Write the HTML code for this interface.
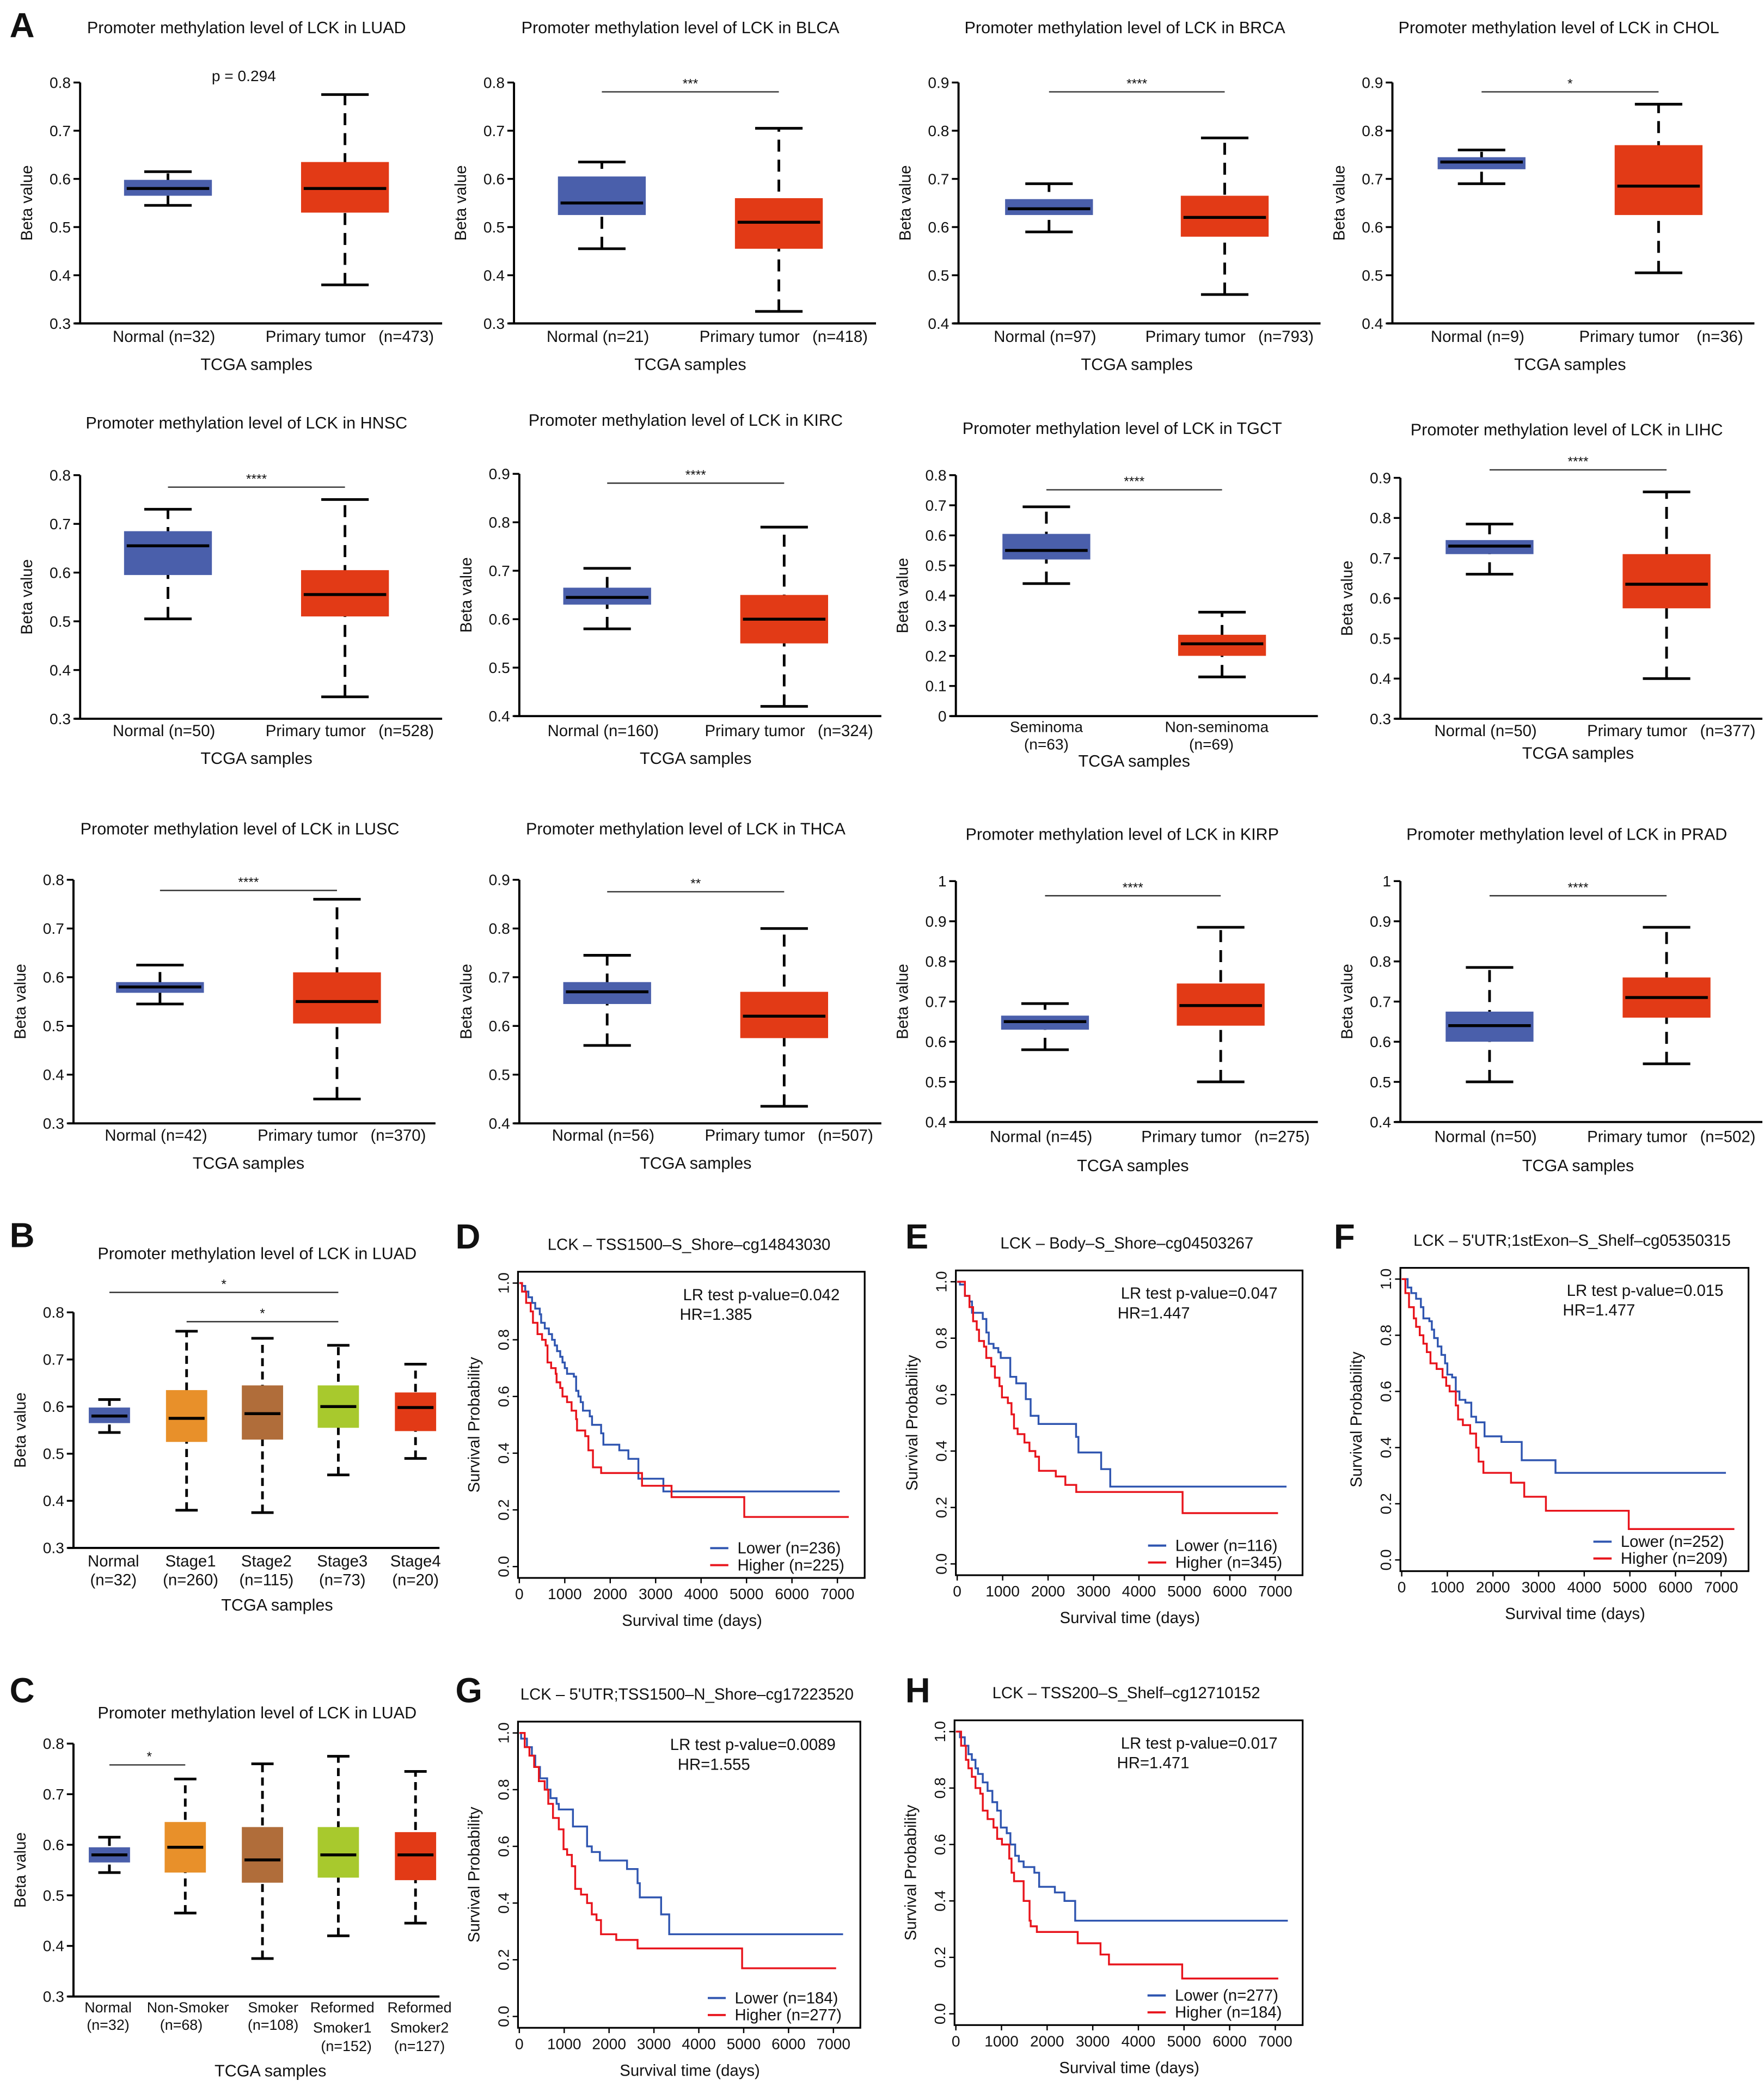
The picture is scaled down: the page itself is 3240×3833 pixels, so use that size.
<!DOCTYPE html>
<html><head><meta charset="utf-8"><style>
html,body{margin:0;padding:0;background:#fff}
svg{display:block}
text{font-family:"Liberation Sans",Arial,sans-serif;fill:#111}
</style></head><body>
<svg id="fig" xmlns="http://www.w3.org/2000/svg" width="3240" height="3833" viewBox="0 0 1325 1568"></svg>
<script>
// ---------- box plot data: [whiskerLow, q1, median, q3, whiskerHigh] ----------
const statsLUAD=[[0.545,0.565,0.58,0.598,0.615],[0.38,0.53,0.58,0.635,0.775]];
const statsBLCA=[[0.455,0.525,0.55,0.605,0.635],[0.325,0.455,0.51,0.56,0.705]];
const statsBRCA=[[0.59,0.625,0.638,0.658,0.69],[0.46,0.58,0.62,0.665,0.785]];
const statsCHOL=[[0.69,0.72,0.735,0.745,0.76],[0.505,0.625,0.685,0.77,0.855]];
const statsHNSC=[[0.505,0.595,0.655,0.685,0.73],[0.345,0.51,0.555,0.605,0.75]];
const statsKIRC=[[0.58,0.63,0.645,0.665,0.705],[0.42,0.55,0.6,0.65,0.79]];
const statsTGCT=[[0.44,0.52,0.55,0.605,0.695],[0.13,0.2,0.24,0.27,0.345]];
const statsLIHC=[[0.66,0.71,0.73,0.745,0.785],[0.4,0.575,0.635,0.71,0.865]];
const statsLUSC=[[0.545,0.568,0.58,0.59,0.625],[0.35,0.505,0.55,0.61,0.76]];
const statsTHCA=[[0.56,0.645,0.67,0.69,0.745],[0.435,0.575,0.62,0.67,0.8]];
const statsKIRP=[[0.58,0.63,0.65,0.665,0.695],[0.5,0.64,0.69,0.745,0.885]];
const statsPRAD=[[0.5,0.6,0.64,0.675,0.785],[0.545,0.66,0.71,0.76,0.885]];
const statsStage=[[0.545,0.565,0.58,0.598,0.615],[0.38,0.525,0.575,0.635,0.76],[0.375,0.53,0.585,0.645,0.745],[0.455,0.555,0.6,0.645,0.73],[0.49,0.548,0.598,0.63,0.69]];
const statsSmoke=[[0.545,0.565,0.58,0.595,0.615],[0.465,0.545,0.595,0.645,0.73],[0.375,0.525,0.57,0.635,0.76],[0.42,0.535,0.58,0.635,0.775],[0.445,0.53,0.58,0.625,0.745]];
const ticks08=[0.3,0.4,0.5,0.6,0.7,0.8];
const ticks09=[0.4,0.5,0.6,0.7,0.8,0.9];
const ticks10=[0.4,0.5,0.6,0.7,0.8,0.9,1];
const ticksTGCT=[0,0.1,0.2,0.3,0.4,0.5,0.6,0.7,0.8];
const ticks03=[0.3,0.4,0.5,0.6,0.7,0.8];

// ---------- survival data: at time T[i] the curve drops to S[i]; last entry = end of curve ----------
const kmDLowT=[0,60,130,200,280,350,450,480,560,650,720,780,830,900,950,1000,1050,1200,1250,1300,1350,1400,1550,1600,1800,1850,2200,2400,2620,3170,7050];
const kmDLowS=[1,0.99,0.97,0.95,0.93,0.91,0.89,0.86,0.84,0.82,0.80,0.78,0.76,0.74,0.72,0.70,0.68,0.67,0.62,0.60,0.58,0.55,0.53,0.50,0.47,0.43,0.41,0.38,0.31,0.265,0.265];
const kmDHighT=[0,60,150,250,300,400,500,580,620,700,800,820,900,950,1050,1150,1250,1270,1450,1520,1620,1800,2700,3350,4950,7250];
const kmDHighS=[1,0.97,0.93,0.9,0.86,0.82,0.80,0.78,0.72,0.70,0.68,0.65,0.63,0.60,0.58,0.55,0.52,0.48,0.46,0.41,0.35,0.33,0.285,0.245,0.175,0.175];
const kmELowT=[0,60,170,270,326,563,642,695,800,905,958,1168,1300,1510,1616,1790,2616,2668,3168,3368,7247];
const kmELowS=[1,0.99,0.95,0.93,0.89,0.868,0.82,0.78,0.765,0.75,0.73,0.663,0.64,0.584,0.525,0.496,0.45,0.395,0.336,0.274,0.274];
const kmEHighT=[0,170,270,350,430,480,590,640,750,830,930,985,1115,1195,1250,1330,1480,1590,1720,1800,2170,2380,2620,4960,7060];
const kmEHighS=[1,0.95,0.91,0.86,0.83,0.79,0.77,0.73,0.70,0.66,0.63,0.59,0.57,0.53,0.48,0.46,0.43,0.40,0.38,0.33,0.31,0.28,0.255,0.18,0.18];
const kmFLowT=[0,130,210,315,420,475,605,660,710,790,870,950,1000,1105,1185,1265,1395,1525,1630,1815,2185,2630,3370,7105];
const kmFLowS=[1,0.97,0.95,0.93,0.90,0.86,0.85,0.82,0.79,0.76,0.73,0.70,0.66,0.65,0.60,0.57,0.56,0.51,0.49,0.44,0.42,0.355,0.31,0.31];
const kmFHighT=[0,80,160,265,315,395,475,550,630,765,895,975,1050,1185,1235,1340,1500,1630,1685,1790,2395,2685,3160,4975,7290];
const kmFHighS=[1,0.95,0.9,0.86,0.83,0.80,0.77,0.74,0.70,0.68,0.65,0.62,0.60,0.55,0.50,0.48,0.45,0.40,0.35,0.31,0.275,0.225,0.175,0.11,0.11];
const kmGLowT=[0,40,170,280,355,460,620,695,830,880,1195,1510,1615,1795,2400,2635,2685,3160,3340,7215];
const kmGLowS=[1,0.98,0.95,0.92,0.88,0.84,0.80,0.77,0.75,0.73,0.67,0.60,0.58,0.55,0.52,0.47,0.42,0.36,0.29,0.29];
const kmGHighT=[0,120,225,330,435,565,645,750,880,985,1065,1170,1245,1375,1510,1615,1720,1820,2160,2635,4965,7060];
const kmGHighS=[1,0.95,0.92,0.88,0.83,0.80,0.75,0.70,0.66,0.59,0.57,0.53,0.45,0.43,0.40,0.36,0.34,0.29,0.27,0.24,0.17,0.17];
const kmHLowT=[0,90,195,275,350,430,485,590,695,800,905,985,1115,1195,1300,1380,1485,1720,1825,2170,2380,2615,7275];
const kmHLowS=[1,0.98,0.95,0.92,0.90,0.87,0.85,0.82,0.79,0.75,0.72,0.66,0.64,0.60,0.56,0.54,0.52,0.50,0.45,0.43,0.40,0.33,0.33];
const kmHHighT=[0,115,220,275,350,430,535,590,695,825,905,1010,1170,1220,1275,1485,1615,1640,1775,2670,3170,3355,4960,7065];
const kmHHighS=[1,0.95,0.90,0.87,0.84,0.80,0.78,0.72,0.69,0.66,0.62,0.60,0.55,0.50,0.47,0.40,0.33,0.31,0.29,0.25,0.21,0.175,0.125,0.125];
const kmXTicks=[0,1000,2000,3000,4000,5000,6000,7000];
const kmYTicks=[0,0.2,0.4,0.6,0.8,1.0];

const svg=document.getElementById('fig');
const NS='http://www.w3.org/2000/svg';
function el(tag,attrs,parent,txt){const e=document.createElementNS(NS,tag);for(const k in attrs)e.setAttribute(k,attrs[k]);if(txt!==undefined)e.textContent=txt;(parent||svg).appendChild(e);return e;}
function txt(x,y,s,size,anchor,parent,name,extra){const t=el('text',Object.assign({x:x,y:y,'font-size':size,'text-anchor':anchor||'middle'},extra||{}),parent,s);

return t;}

const BLUE='#4a5fab',RED='#e23a16',ORANGE='#e8902a',BROWN='#b06d3a',LIME='#a8c92d';

function boxPanel(c,stats,ticks){
  const g=el('g',{});
  
  
  const yMin=ticks[0],yMax=ticks[ticks.length-1];
  const Y=v=>c.bot-(v-yMin)/(yMax-yMin)*(c.bot-c.top);
  txt(c.titleX,c.titleY,c.title,12.5,'middle',g,'panel-title');
  txt(0,0,'Beta value',12,'middle',g,'y-axis-title',{transform:`translate(${c.ax-36},${(c.top+c.bot)/2}) rotate(-90)`});
  el('line',{x1:c.ax,y1:c.top,x2:c.ax,y2:c.bot,stroke:'#000','stroke-width':1.6},g);
  el('line',{x1:c.ax-4,y1:c.bot,x2:c.ax+c.w,y2:c.bot,stroke:'#000','stroke-width':1.6},g);
  ticks.forEach(t=>{el('line',{x1:c.ax-5,y1:Y(t),x2:c.ax,y2:Y(t),stroke:'#000','stroke-width':1.4},g);
    txt(c.ax-7,Y(t)+4,String(t),11.5,'end',g,'y-tick-label');});
  stats.forEach((s,i)=>{
    const cx=c.centers[i],bw=c.bw,col=c.colors[i];
    const b=el('g',{},g);
    
    
    el('line',{x1:cx,y1:Y(s[0]),x2:cx,y2:Y(s[4]),stroke:'#000','stroke-width':2,'stroke-dasharray':c.dash||'8,5'},b);
    el('line',{x1:cx-bw*0.27,y1:Y(s[0]),x2:cx+bw*0.27,y2:Y(s[0]),stroke:'#000','stroke-width':2},b);
    el('line',{x1:cx-bw*0.27,y1:Y(s[4]),x2:cx+bw*0.27,y2:Y(s[4]),stroke:'#000','stroke-width':2},b);
    el('rect',{x:cx-bw/2,y:Y(s[3]),width:bw,height:Y(s[1])-Y(s[3]),fill:col},b);
    el('line',{x1:cx-bw/2+2,y1:Y(s[2]),x2:cx+bw/2-2,y2:Y(s[2]),stroke:'#000','stroke-width':2.2},b);
    c.labels[i].forEach(l=>txt(cx+l[0],l[1],l[2],l[3]||12,'middle',g,'x-tick-label'));
  });
  (c.sig||[]).forEach(s=>{
    if(s.x1!==undefined) el('line',{x1:s.x1,y1:s.y,x2:s.x2,y2:s.y,stroke:'#333','stroke-width':1},g);
    txt(s.tx,s.ty,s.t,s.size||10,'middle',g,'significance-label');
  });
  txt(c.xtX,c.xtY,'TCGA samples',12.5,'middle',g,'x-axis-title');
}

const rows=[{top:62,bot:243,lab:257,xt:278,ty:25},{top:357,bot:540,lab:553,xt:574,ty:322},{top:661,bot:844,lab:857,xt:878,ty:627}];
const A=[
 {name:'luad-panel',title:'Promoter methylation level of LCK in LUAD',ax:60,r:0,c1:126,c2:259,st:statsLUAD,tk:ticks08,n:'(n=32)',np:'(n=473)',sig:[{t:'p = 0.294',tx:183,ty:61,size:11.5}]},
 {name:'blca-panel',title:'Promoter methylation level of LCK in BLCA',ax:386,r:0,c1:452,c2:585,st:statsBLCA,tk:ticks08,n:'(n=21)',np:'(n=418)',sy:69,s:'***'},
 {name:'brca-panel',title:'Promoter methylation level of LCK in BRCA',ax:720,r:0,c1:788,c2:920,st:statsBRCA,tk:ticks09,n:'(n=97)',np:'(n=793)',sy:69,s:'****'},
 {name:'chol-panel',title:'Promoter methylation level of LCK in CHOL',ax:1046,r:0,c1:1113,c2:1246,st:statsCHOL,tk:ticks09,n:'(n=9)',np:'(n=36)',sy:69,s:'*'},
 {name:'hnsc-panel',title:'Promoter methylation level of LCK in HNSC',ax:60,r:1,c1:126,c2:259,st:statsHNSC,tk:ticks08,n:'(n=50)',np:'(n=528)',sy:366,s:'****'},
 {name:'kirc-panel',title:'Promoter methylation level of LCK in KIRC',ax:390,r:1,c1:456,c2:589,st:statsKIRC,tk:ticks09,n:'(n=160)',np:'(n=324)',sy:363,s:'****',top:356,bot:538,ty:320},
 {name:'tgct-panel',title:'Promoter methylation level of LCK in TGCT',ax:718,r:1,c1:786,c2:918,st:statsTGCT,tk:ticksTGCT,sy:368,s:'****',top:357,bot:538,ty:326,tgct:true},
 {name:'lihc-panel',title:'Promoter methylation level of LCK in LIHC',ax:1052,r:1,c1:1119,c2:1252,st:statsLIHC,tk:[0.3,0.4,0.5,0.6,0.7,0.8,0.9],n:'(n=50)',np:'(n=377)',sy:353,s:'****',top:359,bot:540,ty:327,xt:570,lab:553},
 {name:'lusc-panel',title:'Promoter methylation level of LCK in LUSC',ax:55,r:2,c1:120,c2:253,st:statsLUSC,tk:ticks08,n:'(n=42)',np:'(n=370)',sy:669,s:'****',ty:627},
 {name:'thca-panel',title:'Promoter methylation level of LCK in THCA',ax:390,r:2,c1:456,c2:589,st:statsTHCA,tk:ticks09,n:'(n=56)',np:'(n=507)',sy:670,s:'**'},
 {name:'kirp-panel',title:'Promoter methylation level of LCK in KIRP',ax:718,r:2,c1:785,c2:917,st:statsKIRP,tk:ticks10,n:'(n=45)',np:'(n=275)',sy:673,s:'****',top:662,bot:843,ty:631,lab:858,xt:880},
 {name:'prad-panel',title:'Promoter methylation level of LCK in PRAD',ax:1052,r:2,c1:1119,c2:1252,st:statsPRAD,tk:ticks10,n:'(n=50)',np:'(n=502)',sy:673,s:'****',top:662,bot:843,ty:631,lab:858,xt:880}
];
A.forEach(p=>{
  const R=rows[p.r];const top=p.top||R.top,bot=p.bot||R.bot,lab=p.lab||R.lab;
  let labels;
  if(p.tgct) labels=[[[0,550,'Seminoma',11.5],[0,563,'(n=63)',11.5]],[[-4,550,'Non-seminoma',11.5],[-8,563,'(n=69)',11.5]]];
  else labels=[[[-3,lab,'Normal  '+p.n]],[[-22,lab,'Primary tumor'],[46,lab,p.np]]];
  const sig=p.sig||[{x1:p.c1,x2:p.c2,y:p.sy,t:p.s,tx:(p.c1+p.c2)/2,ty:p.sy-3}];
  boxPanel({name:p.name,title:p.title,titleX:(p.ax+p.ax+270)/2-10,titleY:p.ty||R.ty,ax:p.ax,w:272,top:top,bot:bot,centers:[p.c1,p.c2],bw:66,colors:[BLUE,RED],labels:labels,sig:sig,xtX:(p.c1+p.c2)/2,xtY:p.xt||(p.tgct?576:R.xt),dash:'9,6'},p.st,p.tk);
});
// B
boxPanel({name:'stage-panel',title:'Promoter methylation level of LCK in LUAD',titleX:193,titleY:946,ax:55,w:275,top:986,bot:1163,centers:[82,140,197,254,312],bw:31,colors:[BLUE,ORANGE,BROWN,LIME,RED],
 labels:[[[3,1177,'Normal'],[3,1191,'(n=32)']],[[3,1177,'Stage1'],[3,1191,'(n=260)']],[[3,1177,'Stage2'],[3,1191,'(n=115)']],[[3,1177,'Stage3'],[3,1191,'(n=73)']],[[0,1177,'Stage4'],[0,1191,'(n=20)']]],
 sig:[{x1:82,x2:254,y:971,t:'*',tx:168,ty:968},{x1:140,x2:254,y:993,t:'*',tx:197,ty:990}],xtX:208,xtY:1210,dash:'6,4'},statsStage,ticks03);
// C
boxPanel({name:'smoking-panel',title:'Promoter methylation level of LCK in LUAD',titleX:193,titleY:1291,ax:55,w:275,top:1310,bot:1500,centers:[82,139,197,254,312],bw:31,colors:[BLUE,ORANGE,BROWN,LIME,RED],
 labels:[[[-1,1512,'Normal',11],[-1,1525,'(n=32)',11]],[[2,1512,'Non-Smoker',11],[-3,1525,'(n=68)',11]],[[8,1512,'Smoker',11],[8,1525,'(n=108)',11]],[[3,1512,'Reformed',11],[3,1527,'Smoker1',11],[6,1541,'(n=152)',11]],[[3,1512,'Reformed',11],[3,1527,'Smoker2',11],[3,1541,'(n=127)',11]]],
 sig:[{x1:82,x2:139,y:1326,t:'*',tx:112,ty:1323}],xtX:203,xtY:1560,dash:'6,4'},statsSmoke,ticks03);

// KM panels
function kmPanel(c){
  const g=el('g',{});
  
  
  const X=t=>c.x0+(t/7000)*(c.x7-c.x0);
  const Y=s=>c.y0-s*(c.y0-c.y1);
  txt((c.x0+c.x7)/2+8,c.y1-25,c.title,12,'middle',g,'panel-title');
  el('rect',{x:X(0)-1,y:Y(1.04),width:X(7600)-X(0)+1,height:Y(-0.04)-Y(1.04),fill:'none',stroke:'#000','stroke-width':1.3},g);
  kmXTicks.forEach(t=>{el('line',{x1:X(t),y1:Y(-0.04),x2:X(t),y2:Y(-0.04)+4,stroke:'#000','stroke-width':1},g);
    txt(X(t),Y(-0.04)+16,String(t),11.5,'middle',g,'x-tick-label');});
  kmYTicks.forEach(t=>{el('line',{x1:X(0)-5,y1:Y(t),x2:X(0)-1,y2:Y(t),stroke:'#000','stroke-width':1},g);
    txt(0,0,t.toFixed(1),11.5,'middle',g,'y-tick-label',{transform:`translate(${X(0)-8},${Y(t)}) rotate(-90)`});});
  txt(0,0,'Survival Probability',12,'middle',g,'y-axis-title',{transform:`translate(${X(0)-30},${(Y(0)+Y(1))/2}) rotate(-90)`});
  txt((X(0)+X(7600))/2,Y(-0.04)+36,'Survival time (days)',12,'middle',g,'x-axis-title');
  [[c.lt,c.ls,'#2f55b0','lower-curve'],[c.ht,c.hs,'#e8141c','higher-curve']].forEach(sr=>{
    const T=sr[0],S=sr[1];let d='M'+X(0)+','+Y(S[0]);
    for(let i=1;i<T.length;i++){d+=' H'+X(T[i])+' V'+Y(S[i]);}
    const p=el('path',{d:d,fill:'none',stroke:sr[2],'stroke-width':1.4},g);
    
    
  });
  txt(X(7050),Y(0.94),'LR test p-value='+c.p,12,'end',g,'p-value-label');
  txt(X(3530),Y(0.87),'HR='+c.hr,12,'start',g,'hr-label');
  const lg=el('g',{},g);
  
  
  el('line',{x1:X(4200),y1:Y(0.065),x2:X(4600),y2:Y(0.065),stroke:'#2f55b0','stroke-width':1.6},lg);
  el('line',{x1:X(4200),y1:Y(0.005),x2:X(4600),y2:Y(0.005),stroke:'#e8141c','stroke-width':1.6},lg);
  txt(X(4800),Y(0.065)+4,'Lower (n='+c.nl+')',12,'start',lg,'legend-entry');
  txt(X(4800),Y(0.005)+4,'Higher (n='+c.nh+')',12,'start',lg,'legend-entry');
}
kmPanel({name:'km-d',title:'LCK \u2013 TSS1500\u2013S_Shore\u2013cg14843030',x0:390,x7:629,y0:1177,y1:964,lt:kmDLowT,ls:kmDLowS,ht:kmDHighT,hs:kmDHighS,p:'0.042',hr:'1.385',nl:236,nh:225});
kmPanel({name:'km-e',title:'LCK \u2013 Body\u2013S_Shore\u2013cg04503267',x0:719,x7:958,y0:1175,y1:963,lt:kmELowT,ls:kmELowS,ht:kmEHighT,hs:kmEHighS,p:'0.047',hr:'1.447',nl:116,nh:345});
kmPanel({name:'km-f',title:"LCK \u2013 5'UTR;1stExon\u2013S_Shelf\u2013cg05350315",x0:1053,x7:1293,y0:1172,y1:961,lt:kmFLowT,ls:kmFLowS,ht:kmFHighT,hs:kmFHighS,p:'0.015',hr:'1.477',nl:252,nh:209});
kmPanel({name:'km-g',title:"LCK \u2013 5'UTR;TSS1500\u2013N_Shore\u2013cg17223520",x0:390,x7:626,y0:1515,y1:1302,lt:kmGLowT,ls:kmGLowS,ht:kmGHighT,hs:kmGHighS,p:'0.0089',hr:'1.555',nl:184,nh:277});
kmPanel({name:'km-h',title:'LCK \u2013 TSS200\u2013S_Shelf\u2013cg12710152',x0:718,x7:958,y0:1513,y1:1301,lt:kmHLowT,ls:kmHLowS,ht:kmHHighT,hs:kmHHighS,p:'0.017',hr:'1.471',nl:277,nh:184});

// panel letters
[['A',7,28],['B',7,937],['C',7,1279],['D',342,938],['E',680,938],['F',1002,938],['G',342,1279],['H',680,1279]].forEach(l=>{
  txt(l[1],l[2],l[0],26,'start',svg,'panel-letter-'+l[0].toLowerCase(),{'font-weight':'bold'});
});
</script>
</body></html>
